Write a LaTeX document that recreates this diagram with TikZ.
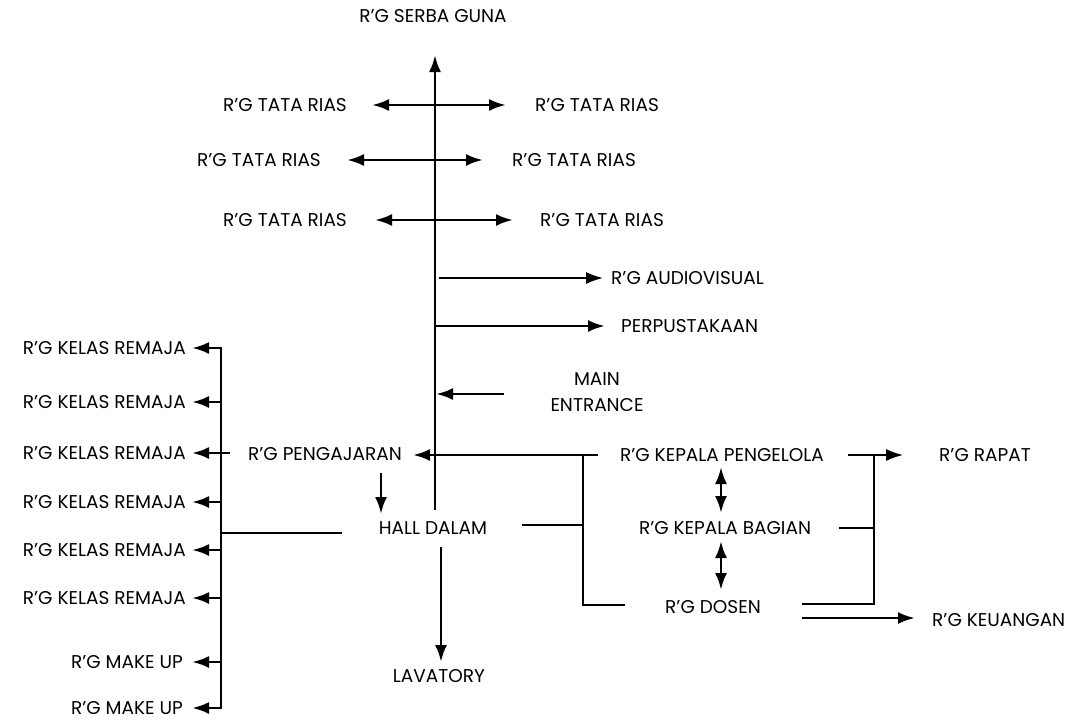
\documentclass[tikz,border=0pt]{standalone}
\usepackage{fontspec}
\setmainfont{Poppins}
\usetikzlibrary{arrows.meta}
\begin{document}
\begin{tikzpicture}[x=1pt,y=-1pt,
  lbl/.style={inner sep=0pt, font=\fontsize{18.5}{20}\selectfont},
  thk/.style={line width=2.8pt},
  thn/.style={line width=1.5pt},
  tip/.style={-{Latex[length=17pt,width=12pt]}},
  dtip/.style={{Latex[length=17pt,width=12pt]}-{Latex[length=17pt,width=12pt]}}]
\useasboundingbox (0,0) rectangle (1078,721);
% labels
\node[lbl] (serba) at (433,16) {R'G SERBA GUNA};
\node[lbl] (tl1) at (285,105) {R'G TATA RIAS};
\node[lbl,anchor=west] (tr1) at (535,105) {R'G TATA RIAS};
\node[lbl] (tl2) at (259,160) {R'G TATA RIAS};
\node[lbl,anchor=west] (tr2) at (512,160) {R'G TATA RIAS};
\node[lbl] (tl3) at (285,220) {R'G TATA RIAS};
\node[lbl,anchor=west] (tr3) at (540,220) {R'G TATA RIAS};
\node[lbl,anchor=west] (audio) at (611,278) {R'G AUDIOVISUAL};
\node[lbl,anchor=west] (perpus) at (621,326) {PERPUSTAKAAN};
\node[lbl,align=center] (entr) at (597,392) {MAIN\\[6pt]ENTRANCE};
\node[lbl,anchor=east] (k1) at (186,348) {R'G KELAS REMAJA};
\node[lbl,anchor=east] (k2) at (186,402) {R'G KELAS REMAJA};
\node[lbl,anchor=east] (k3) at (186,453) {R'G KELAS REMAJA};
\node[lbl,anchor=east] (k4) at (186,502) {R'G KELAS REMAJA};
\node[lbl,anchor=east] (k5) at (186,550) {R'G KELAS REMAJA};
\node[lbl,anchor=east] (k6) at (186,598) {R'G KELAS REMAJA};
\node[lbl,anchor=east] (m1) at (183,662) {R'G MAKE UP};
\node[lbl,anchor=east] (m2) at (183,708) {R'G MAKE UP};
\node[lbl] (peng) at (325,454) {R'G PENGAJARAN};
\node[lbl] (hall) at (433,528) {HALL DALAM};
\node[lbl] (lav) at (439,676) {LAVATORY};
\node[lbl] (kpp) at (722,455) {R'G KEPALA PENGELOLA};
\node[lbl] (kpb) at (725,528) {R'G KEPALA BAGIAN};
\node[lbl] (dos) at (713,607) {R'G DOSEN};
\node[lbl] (rap) at (985,455) {R'G RAPAT};
\node[lbl,anchor=west] (keu) at (932,620) {R'G KEUANGAN};
% coordinates
\coordinate (spB) at (435,510);
\coordinate (spT) at (435,55);
\coordinate (a1l) at (372,105); \coordinate (a1r) at (506,105);
\coordinate (a2l) at (347,160); \coordinate (a2r) at (483,160);
\coordinate (a3l) at (375,220); \coordinate (a3r) at (513,220);
\coordinate (auS) at (439,278); \coordinate (auE) at (603,278);
\coordinate (peS) at (435,326); \coordinate (peE) at (605,326);
\coordinate (enS) at (504,394); \coordinate (enE) at (436,394);
\coordinate (pgS) at (598,455); \coordinate (pgE) at (413,455);
\coordinate (jx1) at (583,455); \coordinate (jx2) at (583,605);
\coordinate (jxD) at (625,605);
\coordinate (hR) at (522,525); \coordinate (hRj) at (583,525);
\coordinate (pdS) at (381,473); \coordinate (pdE) at (381,514);
\coordinate (lvS) at (441,547); \coordinate (lvE) at (441,662);
\coordinate (lbT) at (221,347); \coordinate (lbB) at (221,709);
\coordinate (hL) at (342,533); \coordinate (hLj) at (221,533);
\coordinate (rpS) at (848,455); \coordinate (rpE) at (903,455);
\coordinate (rbT) at (874,455); \coordinate (rbB) at (874,604);
\coordinate (bgS) at (839,528); \coordinate (bgE) at (874,528);
\coordinate (dsS) at (802,604);
\coordinate (kuS) at (802,618); \coordinate (kuE) at (915,618);
\coordinate (d1T) at (721,467); \coordinate (d1B) at (721,513);
\coordinate (d2T) at (721,541); \coordinate (d2B) at (721,590);
% spine
\draw[thk,tip] (spB) -- (spT);
\draw[thk,dtip] (a1l) -- (a1r);
\draw[thk,dtip] (a2l) -- (a2r);
\draw[thk,dtip] (a3l) -- (a3r);
\draw[thn,tip] (auS) -- (auE);
\draw[thk,tip] (peS) -- (peE);
\draw[thk,tip] (enS) -- (enE);
\draw[thk,tip] (pgS) -- (pgE);
\draw[thk] (jx1) -- (jx2) -- (jxD);
\draw[thk] (hR) -- (hRj);
\draw[thk,tip] (pdS) -- (pdE);
\draw[thk,tip] (lvS) -- (lvE);
% left bus
\draw[line width=2pt] (lbT) -- (lbB);
\draw[thn] (hL) -- (hLj);
\foreach \y in {348,402,502,550,598,662,708}
  \draw[thk,tip] (221,\y) -- (192,\y);
\draw[thk,tip] (230,453) -- (192,453);
% right
\draw[thk,dtip] (d1T) -- (d1B);
\draw[thk,dtip] (d2T) -- (d2B);
\draw[thn,tip] (rpS) -- (rpE);
\draw[thk] (rbT) -- (rbB) -- (dsS);
\draw[thk] (bgS) -- (bgE);
\draw[thk,tip] (kuS) -- (kuE);
\end{tikzpicture}
\end{document}
